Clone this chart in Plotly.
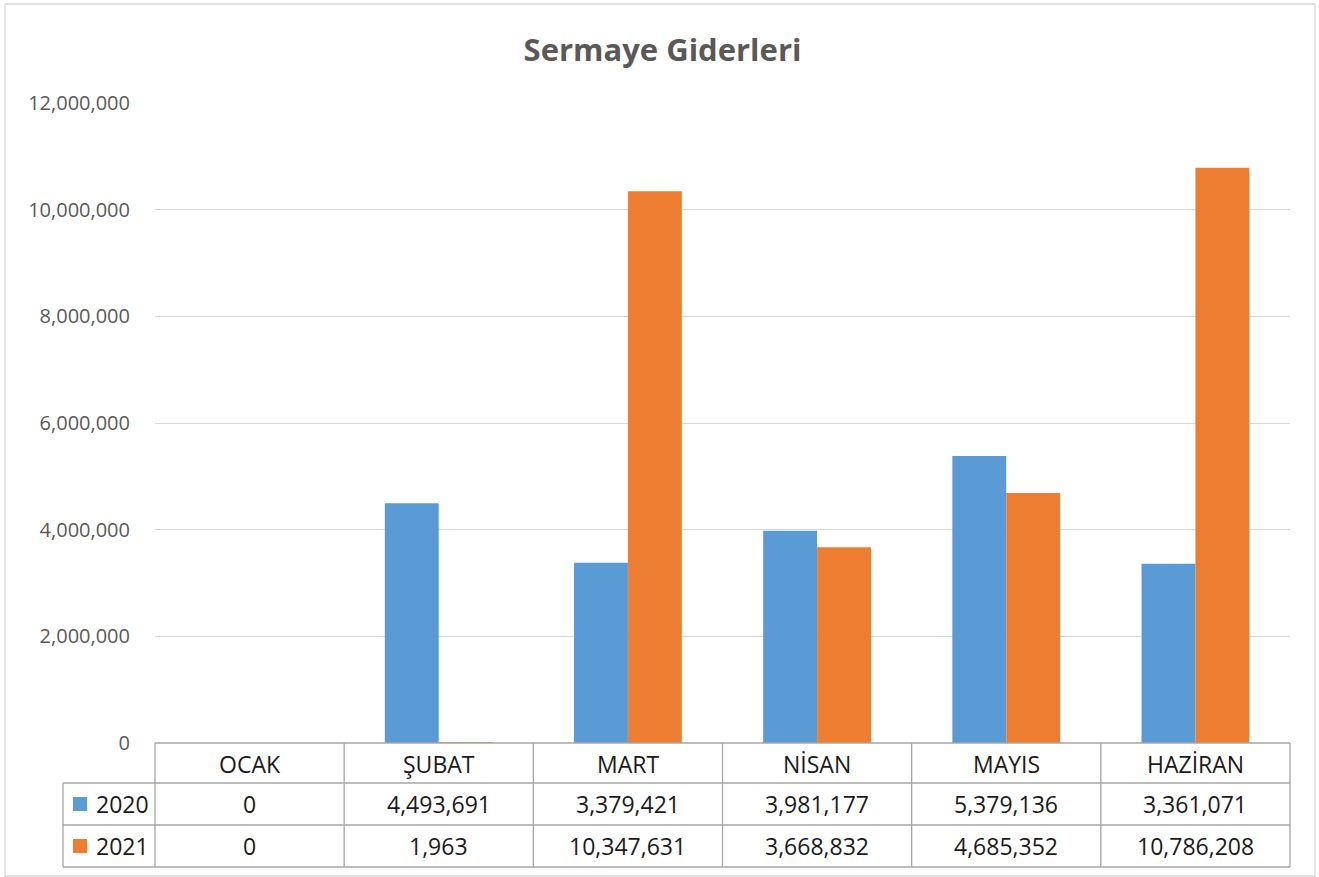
import plotly.graph_objects as go

categories = ["OCAK", "ŞUBAT", "MART", "NİSAN", "MAYIS", "HAZİRAN"]
series_names = ["2020", "2021"]
values_2020 = [0, 4493691, 3379421, 3981177, 5379136, 3361071]
values_2021 = [0, 1963, 10347631, 3668832, 4685352, 10786208]
colors = ["#5B9BD5", "#ED7D31"]
title_text = "Sermaye Giderleri"

W, H = 1319, 877
L, R, T, B = 155, 1290, 103, 743

fig = go.Figure()
for name, vals, col in zip(series_names, [values_2020, values_2021], colors):
    fig.add_trace(go.Bar(x=categories, y=vals, name=name, marker_color=col,
                         marker_line_width=0))

def py(ypx):
    return (B - ypx) / (B - T)

def px_(xpx):
    return (xpx - L) / (R - L)

line_col = "#A6A6A6"
shapes = []
row_lines = [743, 783, 825, 867]
for i, yy in enumerate(row_lines):
    x0 = px_(L) if i == 0 else px_(63)
    shapes.append(dict(type="line", xref="paper", yref="paper", x0=x0, x1=1,
                       y0=py(yy), y1=py(yy), line=dict(color=line_col, width=1.3)))
n = len(categories)
for k in range(n + 1):
    xx = k / n
    shapes.append(dict(type="line", xref="paper", yref="paper", x0=xx, x1=xx,
                       y0=py(743), y1=py(867), line=dict(color=line_col, width=1.3)))
shapes.append(dict(type="line", xref="paper", yref="paper", x0=px_(63), x1=px_(63),
                   y0=py(783), y1=py(867), line=dict(color=line_col, width=1.3)))
shapes.append(dict(type="rect", xref="paper", yref="paper", x0=px_(5), x1=px_(1315),
                   y0=py(876), y1=py(4), line=dict(color="#D9D9D9", width=1.3)))

annotations = []
tfont = dict(family="Open Sans, sans-serif", size=23, color="#1A1A1A")
for i, c in enumerate(categories):
    xc = (i + 0.5) / n
    annotations.append(dict(xref="paper", yref="paper", x=xc, y=py(764), text=c,
                            showarrow=False, font=tfont, xanchor="center", yanchor="middle"))
    for j, vals in enumerate([values_2020, values_2021]):
        yc = py([804, 846][j])
        annotations.append(dict(xref="paper", yref="paper", x=xc, y=yc,
                                text=f"{vals[i]:,}", showarrow=False, font=tfont,
                                xanchor="center", yanchor="middle"))
for j, (name, col) in enumerate(zip(series_names, colors)):
    yc = [804, 846][j]
    shapes.append(dict(type="rect", xref="paper", yref="paper", x0=px_(73), x1=px_(87),
                       y0=py(yc + 7), y1=py(yc - 7), fillcolor=col, line=dict(width=0)))
    annotations.append(dict(xref="paper", yref="paper", x=px_(94), y=py(yc), text=name,
                            showarrow=False, font=tfont, xanchor="left", yanchor="middle"))

fig.update_layout(
    width=W, height=H,
    margin=dict(l=L, r=W - R, t=T, b=H - B, pad=0),
    paper_bgcolor="white", plot_bgcolor="white",
    title=dict(text="<b>" + title_text + "</b>", x=(524 + 801) / 2 / W, xref="container",
               xanchor="center", y=1 - 50 / H, yanchor="middle",
               font=dict(family="Open Sans, sans-serif", size=31, color="#595959")),
    barmode="group", bargap=0.43, bargroupgap=0,
    showlegend=False,
    shapes=shapes, annotations=annotations,
    xaxis=dict(showticklabels=False, showgrid=False, zeroline=False, showline=False,
               range=[-0.5, n - 0.5], fixedrange=True),
    yaxis=dict(range=[0, 12000000], dtick=2000000, tickformat=",d",
               showgrid=True, gridcolor="#D9D9D9", gridwidth=1.3, zeroline=False,
               showline=False, ticks="", ticklabelstandoff=24,
               tickfont=dict(family="Open Sans, sans-serif", size=20, color="#595959")),
)

fig.write_html("out.html", config={"displayModeBar": False},
               post_script="document.body.style.margin='0';document.body.style.padding='0';")
